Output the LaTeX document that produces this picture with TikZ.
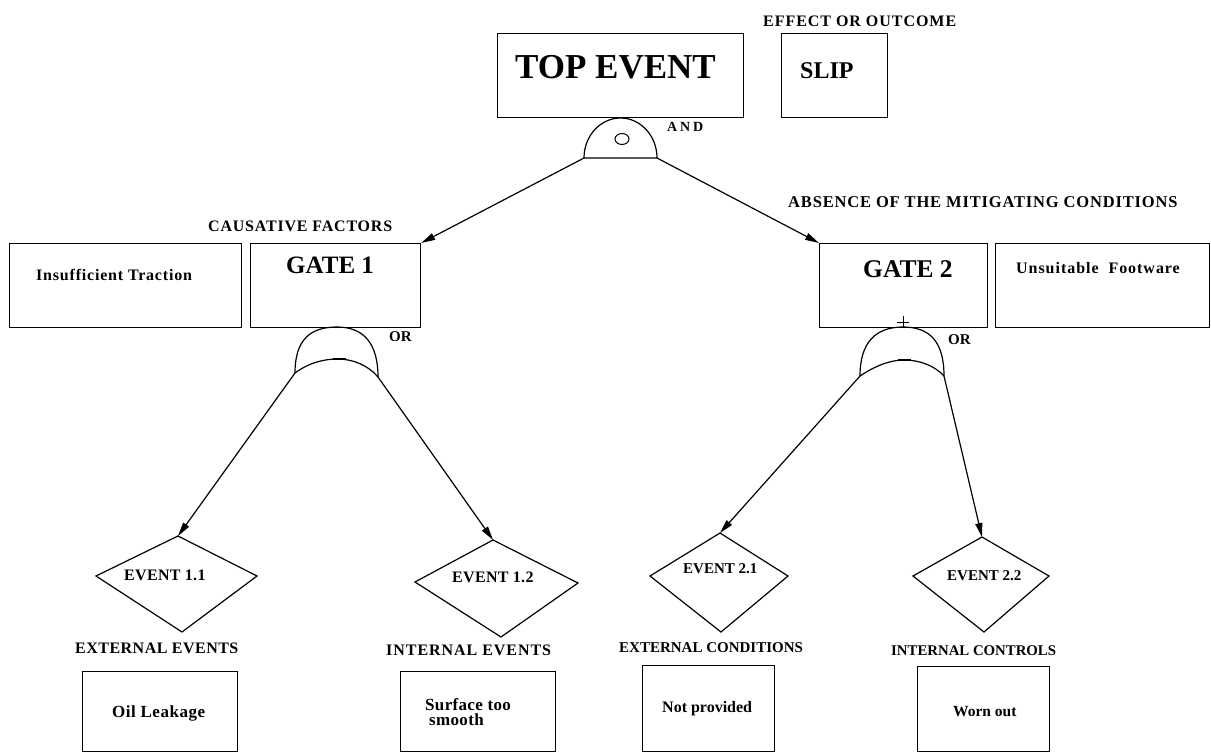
\documentclass[tikz,border=0pt]{standalone}
\usepackage{fontspec}
\setmainfont{Liberation Serif}
\usetikzlibrary{arrows.meta}
\newcommand{\fsz}[1]{\fontsize{#1}{#1}\selectfont}
\newcommand{\ls}[1]{\addfontfeatures{LetterSpace=#1}}
\begin{document}
\begin{tikzpicture}[x=1pt,y=-1pt,
  box/.style={draw, line width=1.2pt, inner sep=0pt, anchor=north west},
  txt/.style={inner sep=0pt, anchor=base west, font=\bfseries},
  ln/.style={line width=1.2pt},
  arr/.style={line width=1.2pt, -{Triangle[length=14pt,width=7pt]}}]
\useasboundingbox (0,0) rectangle (1211,753);
% boxes
\node[box, minimum width=246pt, minimum height=84pt] (top) at (497,33) {};
\node[box, minimum width=106pt, minimum height=84pt] (slip) at (781,33) {};
\node[box, minimum width=232pt, minimum height=84pt] (insuf) at (9,243) {};
\node[box, minimum width=170pt, minimum height=84pt] (gate1) at (250,243) {};
\node[box, minimum width=168pt, minimum height=84pt] (gate2) at (819,243) {};
\node[box, minimum width=214pt, minimum height=84pt] (unsuit) at (995,243) {};
\node[box, minimum width=155pt, minimum height=80pt] (oil) at (82,671) {};
\node[box, minimum width=155pt, minimum height=80pt] (surf) at (400,671) {};
\node[box, minimum width=132pt, minimum height=86pt] (notp) at (642,665) {};
\node[box, minimum width=132pt, minimum height=85pt] (worn) at (917,666) {};
% texts
\node[txt, font=\bfseries\fsz{35}] (tTop) at (515,78) {TOP EVENT};
\node[txt, font=\bfseries\fsz{24}] (tSlip) at (800,78) {SLIP};
\node[txt, font=\bfseries\fsz{16}\ls{6}] (tEff) at (763,26) {EFFECT OR OUTCOME};
\node[txt, font=\bfseries\fsz{14}\ls{20}] (tAnd) at (667,131) {AND};
\node[txt, font=\bfseries\fsz{16}\ls{5}] (tCaus) at (208,231) {CAUSATIVE FACTORS};
\node[txt, font=\bfseries\fsz{16}\ls{5}] (tInsuf) at (36,280) {Insufficient Traction};
\node[txt, font=\bfseries\fsz{25}] (tG1) at (286,273) {GATE 1};
\node[txt, font=\bfseries\fsz{15}] (tOr1) at (389,341) {OR};
\node[txt, font=\bfseries\fsz{16.5}\ls{5}] (tAbs) at (788,207) {ABSENCE OF THE MITIGATING CONDITIONS};
\node[txt, font=\bfseries\fsz{25.5}] (tG2) at (863,277) {GATE 2};
\node[txt, font=\bfseries\fsz{16}\ls{6}] (tUns) at (1016,273) {Unsuitable\ \ Footware};
\node[txt, font=\bfseries\fsz{15}] (tOr2) at (948,344) {OR};
\node[txt, font=\bfseries\fsz{16}\ls{2}] (tE11) at (124,580) {EVENT 1.1};
\node[txt, font=\bfseries\fsz{16}\ls{2}] (tE12) at (452,582) {EVENT 1.2};
\node[txt, font=\bfseries\fsz{15}] (tE21) at (683,573) {EVENT 2.1};
\node[txt, font=\bfseries\fsz{15}] (tE22) at (947,580) {EVENT 2.2};
\node[txt, font=\bfseries\fsz{16}\ls{3}] (tExtE) at (75,653) {EXTERNAL EVENTS};
\node[txt, font=\bfseries\fsz{16}\ls{6}] (tIntE) at (386,655) {INTERNAL EVENTS};
\node[txt, font=\bfseries\fsz{15}] (tExtC) at (619,652) {EXTERNAL CONDITIONS};
\node[txt, font=\bfseries\fsz{14.8}] (tIntC) at (891,655) {INTERNAL CONTROLS};
\node[txt, font=\bfseries\fsz{17}\ls{3}] (tOil) at (112,717) {Oil Leakage};
\node[txt, font=\bfseries\fsz{17}\ls{2}] (tSurf1) at (425,710) {Surface too};
\node[txt, font=\bfseries\fsz{17}\ls{2}] (tSurf2) at (429,725) {smooth};
\node[txt, font=\bfseries\fsz{16}] (tNotp) at (662,712) {Not provided};
\node[txt, font=\bfseries\fsz{15.5}] (tWorn) at (953,716) {Worn out};
% AND gate
\coordinate (andL) at (584,158);
\coordinate (andR) at (657,158);
\draw[ln] (andL) arc[start angle=180, end angle=360, x radius=36.5, y radius=40] -- cycle;
\draw[line width=1pt] (622,139) ellipse[x radius=7, y radius=5.5];
% OR gate 1
\coordinate (o1L) at (295,373);
\coordinate (o1R) at (378,377);
\draw[ln] (o1L) .. controls (295,340) and (310,327) .. (337,327) .. controls (365,327) and (378,345) .. (o1R);
\draw[ln] (o1L) .. controls (310,362) and (325,359) .. (338,359) .. controls (352,359) and (368,365) .. (o1R);
\draw[line width=1.8pt] (333,359) -- (346,359);
% OR gate 2
\coordinate (o2L) at (860,376);
\coordinate (o2R) at (944,376);
\draw[ln] (o2L) .. controls (860,342) and (876,327) .. (903,327) .. controls (930,327) and (944,342) .. (o2R);
\draw[ln] (o2L) .. controls (875,366) and (890,360) .. (904,360) .. controls (920,360) and (935,366) .. (o2R);
\draw[line width=1.8pt] (898,360) -- (911,360);
\draw[line width=1pt] (897,322) -- (909,322) (903,316) -- (903,328);
% diamonds
\coordinate (d11) at (178,536);
\coordinate (d12) at (493,540);
\coordinate (d21) at (720,533);
\coordinate (d22) at (982,537);
\draw[ln] (d11) -- (257,576) -- (182,632) -- (96,576) -- cycle;
\draw[ln] (d12) -- (578,583) -- (501,637) -- (415,582) -- cycle;
\draw[ln] (d21) -- (788,576) -- (721,632) -- (650,576) -- cycle;
\draw[ln] (d22) -- (1049,576) -- (984,632) -- (913,576) -- cycle;
% connectors
\draw[arr] (andL) -- (gate1.north east);
\draw[arr] (andR) -- (gate2.north west);
\draw[arr] (o1L) -- (d11);
\draw[arr] (o1R) -- (d12);
\draw[arr] (o2L) -- (d21);
\draw[arr] (o2R) -- (d22);
\end{tikzpicture}
\end{document}
